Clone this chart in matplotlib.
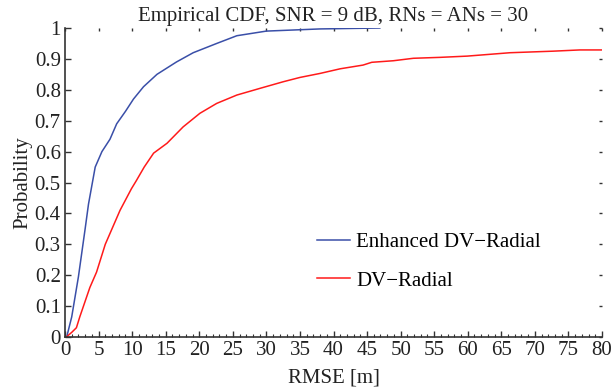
import matplotlib
matplotlib.use("Agg")
import matplotlib.pyplot as plt
from matplotlib.ticker import MultipleLocator

plt.rcParams['font.family'] = ['Liberation Serif', 'DejaVu Serif']

enh_x = [0.0, 0.25, 1.0, 2.0, 3.0, 3.5, 4.5, 5.5, 6.7, 7.7, 9.0, 10.2, 11.7, 13.7, 16.6, 19.1, 22.6, 25.6, 30.0, 38.0, 46.9]
enh_y = [0.0, 0.0, 0.065, 0.195, 0.35, 0.43, 0.55, 0.60, 0.64, 0.69, 0.73, 0.77, 0.81, 0.85, 0.89, 0.92, 0.95, 0.975, 0.99, 0.997, 1.0]

dv_x = [0.0, 0.2, 1.0, 1.7, 2.2, 3.7, 4.7, 6.0, 7.2, 8.2, 9.9, 10.6, 11.8, 13.2, 15.2, 17.6, 20.1, 22.6, 25.6, 29.1, 32.5, 35.0, 38.0, 41.0, 44.4, 45.7, 48.9, 51.9, 55.9, 59.9, 66.3, 72.7, 76.7, 80.0]
dv_y = [0.0, 0.0, 0.015, 0.03, 0.065, 0.16, 0.21, 0.30, 0.36, 0.41, 0.48, 0.505, 0.55, 0.595, 0.627, 0.68, 0.724, 0.756, 0.783, 0.805, 0.826, 0.84, 0.853, 0.868, 0.88, 0.889, 0.894, 0.902, 0.905, 0.909, 0.92, 0.925, 0.929, 0.929]

yticks = [i / 10 for i in range(11)]
ytick_labels = ['0', '0.1', '0.2', '0.3', '0.4', '0.5', '0.6', '0.7', '0.8', '0.9', '1']

fig = plt.figure(figsize=(6.14, 3.89), dpi=100)
ax = fig.add_axes([65/614, 52/389, 537/614, 309/389])

ax.plot(enh_x, enh_y, color='#3a4fa8', lw=1.1, label='Enhanced DV\u2212Radial')
ax.plot(dv_x, dv_y, color='#ff1a1a', lw=1.1, label='DV\u2212Radial')

ax.set_xlim(0, 80)
ax.set_ylim(0, 1)
ax.xaxis.set_major_locator(MultipleLocator(5))
ax.xaxis.set_minor_locator(MultipleLocator(1))
ax.set_yticks(yticks)
ax.set_yticklabels(ytick_labels)

for s in ['top', 'right']:
    ax.spines[s].set_visible(False)
for s in ['left', 'bottom']:
    ax.spines[s].set_color('#333333')
    ax.spines[s].set_linewidth(1.2)

ax.tick_params(axis='both', which='major', direction='in', length=4, width=1, colors='#333333',
               labelsize=15, labelcolor='#222222', pad=3)
ax.tick_params(axis='x', which='minor', direction='in', length=2, width=0.8, colors='#333333', top=False)

# faint ticks on top and right without spines
ax.tick_params(axis='x', which='major', top=True)
ax.tick_params(axis='y', which='major', right=True)
for t in ax.xaxis.get_major_ticks():
    t.tick2line.set_markersize(2)
    t.tick2line.set_color('#aaaaaa')
for t in ax.yaxis.get_major_ticks():
    t.tick2line.set_markersize(2)
    t.tick2line.set_color('#aaaaaa')

ax.set_xlabel('RMSE [m]', fontsize=15, color='#222222', labelpad=6)
ax.set_ylabel('Probability', fontsize=15, color='#222222', labelpad=2)
ax.set_title('Empirical CDF, SNR = 9 dB, RNs = ANs = 30', fontsize=15, color='#222222', pad=5)

ax.legend(loc='upper left', bbox_to_anchor=(0.469, 0.337), frameon=False, fontsize=15,
          borderpad=0, borderaxespad=0, handlelength=1.6, handletextpad=0.3, labelspacing=0.9)

fig.savefig('out.png', dpi=100)
